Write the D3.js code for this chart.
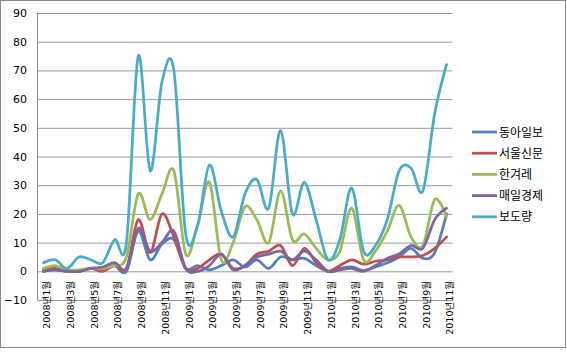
<!DOCTYPE html>
<html>
<head>
<meta charset="utf-8">
<script src="https://cdnjs.cloudflare.com/ajax/libs/d3/7.8.5/d3.min.js"></script>
<style>
  body { margin: 0; background: #fff; }
  text { font-family: "DejaVu Sans", "Noto Sans CJK KR", sans-serif; fill: #000; }
</style>
</head>
<body>
<script>
// monthly article counts, 2008.1 - 2010.11
var months = ['2008년1월','2008년2월','2008년3월','2008년4월','2008년5월','2008년6월',
  '2008년7월','2008년8월','2008년9월','2008년10월','2008년11월','2008년12월',
  '2009년1월','2009년2월','2009년3월','2009년4월','2009년5월','2009년6월',
  '2009년7월','2009년8월','2009년9월','2009년10월','2009년11월','2009년12월',
  '2010년1월','2010년2월','2010년3월','2010년4월','2010년5월','2010년6월',
  '2010년7월','2010년8월','2010년9월','2010년10월','2010년11월'];

var donga   = [0,0.5,0,0,1,1,2,0,14,4,9.5,11,1,2,0.5,2,4,1.5,4,1,5,4,4.5,2,0,1,1.5,0.3,1.5,3,5,8,4.5,6.5,20];
var seoul   = [0.5,1,0,0,1,0,2,1,18,6.5,20,12,1,1,4,6,1,2,6,7,9,2,8,3,0,2,4,2.5,3.5,4,5,5,5.5,8,12];
var hani    = [1,2,0.5,0.5,1,1,2,5,27,18,27,35,6,16,31,4,10,22.5,18,10,28,11,13,8,4,7,22,4,7,14,23,12,9,25,19];
var maeil   = [0,0.5,0,0,1,1.5,3,1,15,7,10,14,1,0,2,6,0.5,2,5,6,7,4,7,4,0,0.5,1,0,2,4.5,6,9,8,18,22];
var total   = [3,4,1,5,4,3,11,10,75,35,66,70,13,16,37,21,12,27,32,22,49,20,31,18,4,11,29,7,9,18,35,36,28,55,72];

var seriesNames = ['동아일보','서울신문','한겨레','매일경제','보도량'];
var seriesValues = [donga, seoul, hani, maeil, total];
var colors = ['#4F81BD','#C0504D','#9BBB59','#8064A2','#4BACC6'];
var yTicks = [-10,0,10,20,30,40,50,60,70,80,90];

var W = 567, H = 353;
var svg = d3.select('body').append('svg')
    .attr('width', W).attr('height', H);

// outer chart border
svg.append('rect')
    .attr('x', 0.5).attr('y', 0.5)
    .attr('width', 565).attr('height', 347)
    .attr('fill', '#fff').attr('stroke', '#8a8a8a');

var plotL = 37.5, plotR = 452.5, plotT = 13, plotB = 300;

var x = d3.scaleBand().domain(months).range([plotL, plotR]).padding(0);
var y = d3.scaleLinear().domain([-10, 90]).range([plotB, plotT]);

// gridlines + y labels
var yAxis = d3.axisLeft(y).tickValues(yTicks).tickSize(-(plotR - plotL)).tickPadding(10);
var gy = svg.append('g').attr('transform', 'translate(' + plotL + ',0)').call(yAxis);
gy.select('.domain').remove();
gy.selectAll('line').attr('stroke', '#9a9a9a');
gy.selectAll('text').attr('font-size', 11).attr('x', -10.5);

// y axis line
svg.append('line')
    .attr('x1', plotL).attr('x2', plotL)
    .attr('y1', plotT).attr('y2', plotB)
    .attr('stroke', '#8a8a8a');

// x labels every other month
var xLabels = months.filter(function(d, i) { return i % 2 == 0; });
svg.append('g').selectAll('text')
    .data(xLabels)
    .enter().append('text')
    .attr('transform', function(d) {
        return 'translate(' + (x(d) + x.bandwidth() / 2 + 3.5) + ',281) rotate(-90)';
    })
    .attr('text-anchor', 'end')
    .attr('dy', '0.35em')
    .attr('font-size', 9.5)
    .text(function(d) { return d; });

// lines
var line = d3.line()
    .x(function(d, i) { return x(months[i]) + x.bandwidth() / 2; })
    .y(function(d) { return y(d); })
    .curve(d3.curveCardinal.tension(0));

svg.append('g').selectAll('path')
    .data(seriesValues)
    .enter().append('path')
    .attr('d', line)
    .attr('fill', 'none')
    .attr('stroke', function(d, i) { return colors[i]; })
    .attr('stroke-width', 2.75)
    .attr('stroke-linejoin', 'round')
    .attr('stroke-linecap', 'round');

// legend
var leg = svg.append('g').selectAll('g')
    .data(seriesNames)
    .enter().append('g')
    .attr('transform', function(d, i) { return 'translate(472,' + (132 + i * 21.2) + ')'; });

leg.append('line')
    .attr('x1', 0).attr('x2', 25)
    .attr('stroke', function(d, i) { return colors[i]; })
    .attr('stroke-width', 2.75);

leg.append('text')
    .attr('x', 27)
    .attr('dy', '0.38em')
    .attr('font-size', 12)
    .text(function(d) { return d; });
</script>
</body>
</html>
